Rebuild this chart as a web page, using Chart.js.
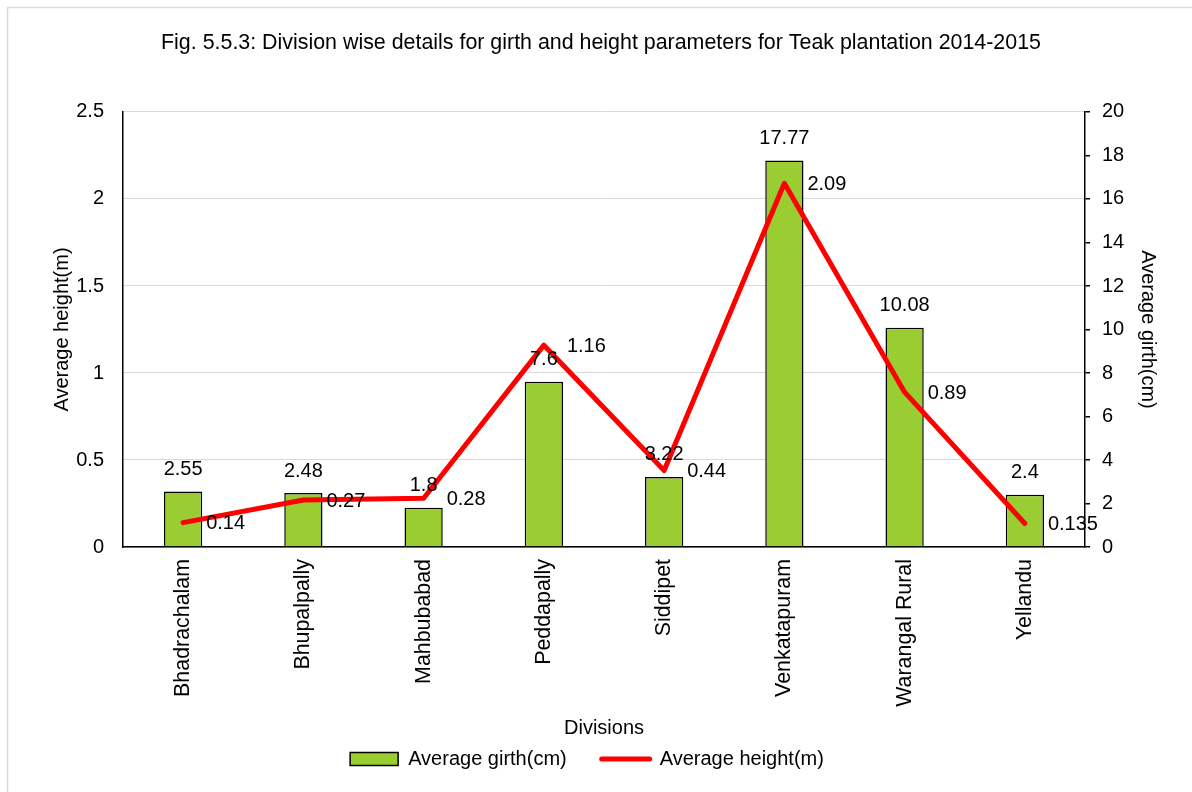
<!DOCTYPE html>
<html><head><meta charset="utf-8">
<script src="https://cdn.jsdelivr.net/npm/chart.js@4.4.1/dist/chart.umd.min.js"></script>
<style>html,body{margin:0;padding:0;background:#fff}#wrap{width:1192px;height:792px;position:relative}</style>
</head><body><div id="wrap"><canvas id="c" width="1192" height="792"></canvas></div>
<script>
const categories = ['Bhadrachalam','Bhupalpally','Mahbubabad','Peddapally','Siddipet','Venkatapuram','Warangal Rural','Yellandu'];
const girthValues = [2.55, 2.48, 1.8, 7.6, 3.22, 17.77, 10.08, 2.4];
const heightValues = [0.14, 0.27, 0.28, 1.16, 0.44, 2.09, 0.89, 0.135];
const seriesNames = ['Average girth(cm)', 'Average height(m)'];
const leftTickLabels = ['0','0.5','1','1.5','2','2.5'];
const rightTickLabels = ['0','2','4','6','8','10','12','14','16','18','20'];
const titleText = 'Fig. 5.5.3: Division wise details for girth and height parameters for Teak plantation 2014-2015';
const xTitleText = 'Divisions';
const leftTitleText = 'Average height(m)';
const rightTitleText = 'Average girth(cm)';

const GREEN = '#9acd32';
const RED = '#ff0000';
const FONT = "'Liberation Sans', Arial, sans-serif";

Chart.defaults.font.family = FONT;
Chart.defaults.font.size = 20;
Chart.defaults.color = '#000';

const framePlugin = {
  id: 'frame',
  afterLayout(chart) {
    const lg = chart.legend;
    if (lg) { lg.left -= 14; lg.right -= 14; }
  },
  beforeDraw(chart) {
    const ctx = chart.ctx;
    ctx.save();
    ctx.fillStyle = '#fff';
    ctx.fillRect(0, 0, chart.width, chart.height);
    ctx.strokeStyle = '#d9d9d9';
    ctx.lineWidth = 1.5;
    ctx.strokeRect(7.5, 7.5, chart.width + 20, chart.height + 20);
    ctx.restore();
  }
};

const labelPlugin = {
  id: 'valueLabels',
  afterDatasetsDraw(chart) {
    const ctx = chart.ctx;
    ctx.save();
    ctx.font = '20px ' + FONT;
    ctx.fillStyle = '#000';
    ctx.textBaseline = 'middle';
    const barMeta = chart.getDatasetMeta(0);
    ctx.textAlign = 'center';
    barMeta.data.forEach((el, i) => {
      ctx.fillText(String(girthValues[i]), el.x, el.y - 22);
    });
    const lineMeta = chart.getDatasetMeta(1);
    ctx.textAlign = 'left';
    lineMeta.data.forEach((el, i) => {
      ctx.fillText(String(heightValues[i]), el.x + 23, el.y + 1);
    });
    ctx.restore();
  }
};

new Chart(document.getElementById('c'), {
  data: {
    labels: categories,
    datasets: [
      {
        type: 'bar',
        label: seriesNames[0],
        data: girthValues,
        yAxisID: 'y1',
        backgroundColor: GREEN,
        borderColor: '#000',
        borderWidth: 1.5,
        barPercentage: 0.318,
        categoryPercentage: 1,
        order: 2
      },
      {
        type: 'line',
        label: seriesNames[1],
        data: heightValues,
        yAxisID: 'y',
        borderColor: RED,
        backgroundColor: RED,
        borderWidth: 5,
        pointRadius: 0,
        tension: 0,
        borderJoinStyle: 'round',
        borderCapStyle: 'round',
        order: 1
      }
    ]
  },
  options: {
    responsive: false,
    animation: false,
    devicePixelRatio: 1,
    layout: { padding: { top: 0, left: 30, right: 20, bottom: 13 } },
    plugins: {
      title: {
        display: true,
        text: titleText,
        font: { size: 21.4, weight: 'normal' },
        color: '#000',
        padding: { top: 30, bottom: 56.3 }
      },
      legend: {
        position: 'bottom',
        labels: {
          usePointStyle: true,
          pointStyleWidth: 48,
          boxHeight: 13,
          padding: 35,
          font: { size: 20 },
          color: '#000',
          generateLabels: () => [
            { text: seriesNames[0], fillStyle: GREEN, strokeStyle: '#000', lineWidth: 1.5, pointStyle: 'rect', datasetIndex: 0, hidden: false, fontColor: '#000' },
            { text: seriesNames[1], fillStyle: RED, strokeStyle: RED, lineWidth: 5, lineCap: 'round', pointStyle: 'line', datasetIndex: 1, hidden: false, fontColor: '#000' }
          ]
        }
      },
      tooltip: { enabled: false }
    },
    scales: {
      x: {
        type: 'category',
        offset: true,
        grid: { display: false, drawTicks: false },
        border: { display: true, color: '#000', width: 1.5 },
        ticks: { autoSkip: false, minRotation: 90, maxRotation: 90, padding: 12, font: { size: 21.4 }, color: '#000' },
        title: { display: true, text: xTitleText, font: { size: 20 }, color: '#000', padding: { top: 0, bottom: -26 } },
        afterFit(scale) { scale.height = 167; }
      },
      y: {
        position: 'left',
        min: 0, max: 2.5,
        grid: { color: '#d9d9d9', lineWidth: 1, drawTicks: false },
        border: { display: true, color: '#000', width: 1.5 },
        ticks: { stepSize: 0.5, padding: 19, font: { size: 20 }, color: '#000', callback: (v, i) => leftTickLabels[i] },
        title: { display: true, text: leftTitleText, font: { size: 20 }, color: '#000', padding: { top: 20, bottom: 0 } },
        afterFit(scale) { scale.width = 93; }
      },
      y1: {
        position: 'right',
        min: 0, max: 20,
        grid: { drawOnChartArea: false, drawTicks: true, tickLength: 5, color: '#000', lineWidth: 1.5 },
        border: { display: true, color: '#000', width: 1.5 },
        ticks: { stepSize: 2, padding: 12, font: { size: 20 }, color: '#000', callback: (v, i) => rightTickLabels[i] },
        title: { display: true, text: rightTitleText, font: { size: 20 }, color: '#000', padding: { top: 12, bottom: 0 } },
        afterFit(scale) { scale.width = 87; }
      }
    }
  },
  plugins: [framePlugin, labelPlugin]
});
</script>
</body></html>
